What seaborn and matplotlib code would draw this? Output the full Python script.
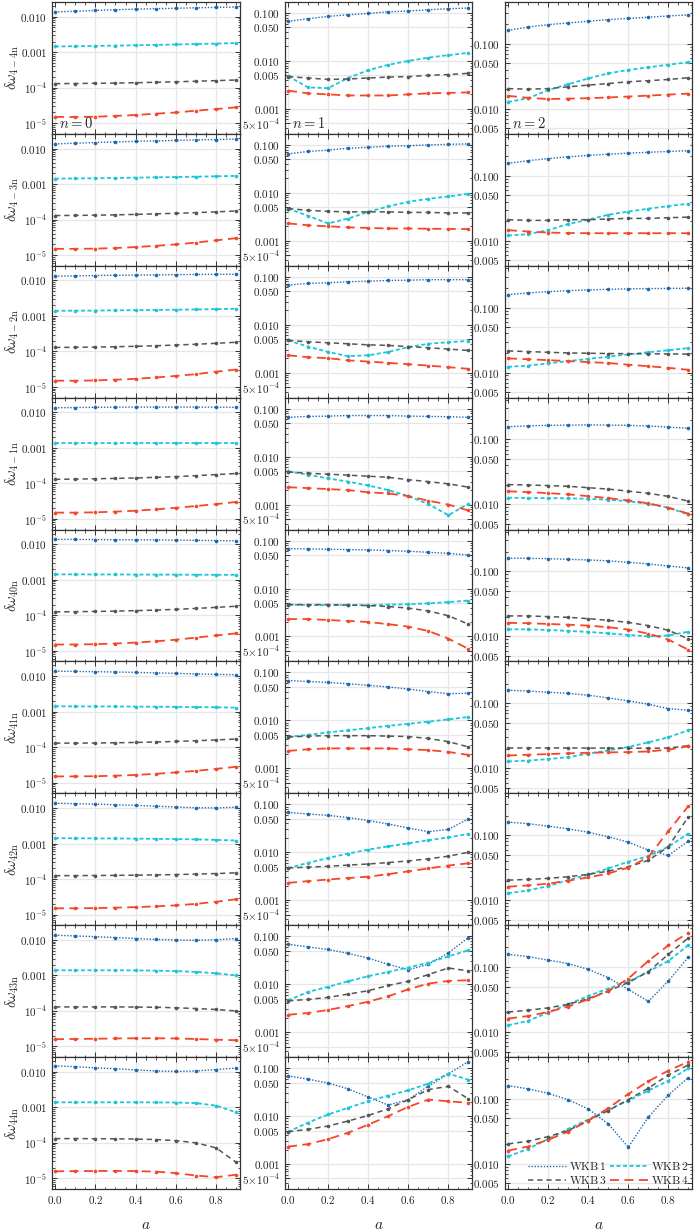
import numpy as np
import matplotlib
matplotlib.use("Agg")
import matplotlib.pyplot as plt
from matplotlib.gridspec import GridSpec
from matplotlib.lines import Line2D
from matplotlib.ticker import FixedLocator, FixedFormatter, LogLocator, MultipleLocator, NullFormatter
import seaborn as sns

# spin parameter a
a_vals = [0.0, 0.1, 0.2, 0.3, 0.4, 0.5, 0.6, 0.7, 0.8, 0.9]

row_labels = ["4-4", "4-3", "4-2", "4-1", "40", "41", "42", "43", "44"]
overtones = ["0", "1", "2"]
wkb_names = ["WKB 1", "WKB 2", "WKB 3", "WKB 4"]

# n = 0, one list per row (l=4, m=-4..4)
wkb1_n0 = [
    [0.0136, 0.0143, 0.0150, 0.0157, 0.0163, 0.0168, 0.0173, 0.0178, 0.0183, 0.0188],
    [0.0135, 0.0142, 0.0148, 0.0154, 0.0160, 0.0165, 0.0170, 0.0175, 0.0180, 0.0185],
    [0.0132, 0.0135, 0.0138, 0.0140, 0.0142, 0.0144, 0.0146, 0.0148, 0.0149, 0.0150],
    [0.0135, 0.0137, 0.0139, 0.0140, 0.0141, 0.0141, 0.0141, 0.0141, 0.0140, 0.0139],
    [0.0137, 0.0137, 0.0136, 0.0135, 0.0134, 0.0133, 0.0131, 0.0129, 0.0127, 0.0125],
    [0.0138, 0.0136, 0.0134, 0.0131, 0.0128, 0.0124, 0.0120, 0.0116, 0.0112, 0.0110],
    [0.0137, 0.0133, 0.0129, 0.0124, 0.0119, 0.0113, 0.0107, 0.0102, 0.0101, 0.0106],
    [0.0136, 0.0130, 0.0124, 0.0117, 0.0110, 0.0104, 0.0100, 0.0098, 0.0102, 0.0110],
    [0.0148, 0.0140, 0.0130, 0.0122, 0.0114, 0.0106, 0.0103, 0.0106, 0.0116, 0.0128],
]
wkb2_n0 = [
    [0.00145, 0.00147, 0.00150, 0.00153, 0.00157, 0.00160, 0.00165, 0.00170, 0.00175, 0.00180],
    [0.00142, 0.00144, 0.00146, 0.00149, 0.00152, 0.00155, 0.00158, 0.00162, 0.00166, 0.00170],
    [0.00140, 0.00141, 0.00142, 0.00144, 0.00146, 0.00148, 0.00150, 0.00153, 0.00156, 0.00160],
    [0.00140, 0.00140, 0.00140, 0.00140, 0.00140, 0.00140, 0.00140, 0.00140, 0.00140, 0.00140],
    [0.00142, 0.00142, 0.00141, 0.00141, 0.00140, 0.00140, 0.00139, 0.00139, 0.00138, 0.00138],
    [0.00142, 0.00141, 0.00140, 0.00140, 0.00139, 0.00138, 0.00137, 0.00135, 0.00133, 0.00130],
    [0.00142, 0.00141, 0.00140, 0.00139, 0.00138, 0.00136, 0.00134, 0.00131, 0.00127, 0.00122],
    [0.00140, 0.00140, 0.00140, 0.00140, 0.00139, 0.00137, 0.00133, 0.00126, 0.00115, 0.00100],
    [0.00139, 0.00139, 0.00139, 0.00139, 0.00139, 0.00138, 0.00137, 0.00132, 0.00112, 0.00072],
]
wkb3_n0 = [
    [1.30e-4, 1.31e-4, 1.33e-4, 1.35e-4, 1.38e-4, 1.42e-4, 1.47e-4, 1.52e-4, 1.58e-4, 1.65e-4],
    [1.30e-4, 1.31e-4, 1.33e-4, 1.36e-4, 1.40e-4, 1.45e-4, 1.50e-4, 1.57e-4, 1.65e-4, 1.75e-4],
    [1.30e-4, 1.31e-4, 1.33e-4, 1.36e-4, 1.40e-4, 1.45e-4, 1.52e-4, 1.60e-4, 1.70e-4, 1.82e-4],
    [1.30e-4, 1.32e-4, 1.35e-4, 1.38e-4, 1.42e-4, 1.48e-4, 1.55e-4, 1.65e-4, 1.77e-4, 1.90e-4],
    [1.25e-4, 1.26e-4, 1.28e-4, 1.31e-4, 1.35e-4, 1.40e-4, 1.47e-4, 1.56e-4, 1.67e-4, 1.80e-4],
    [1.30e-4, 1.30e-4, 1.31e-4, 1.33e-4, 1.36e-4, 1.40e-4, 1.45e-4, 1.52e-4, 1.60e-4, 1.70e-4],
    [1.25e-4, 1.25e-4, 1.26e-4, 1.27e-4, 1.29e-4, 1.31e-4, 1.34e-4, 1.38e-4, 1.43e-4, 1.50e-4],
    [1.30e-4, 1.30e-4, 1.30e-4, 1.30e-4, 1.29e-4, 1.27e-4, 1.23e-4, 1.17e-4, 1.10e-4, 1.00e-4],
    [1.32e-4, 1.32e-4, 1.31e-4, 1.30e-4, 1.28e-4, 1.24e-4, 1.16e-4, 1.00e-4, 7.2e-5, 2.8e-5],
]
wkb4_n0 = [
    [1.50e-5, 1.50e-5, 1.52e-5, 1.60e-5, 1.70e-5, 1.85e-5, 2.00e-5, 2.25e-5, 2.50e-5, 2.80e-5],
    [1.50e-5, 1.50e-5, 1.52e-5, 1.58e-5, 1.68e-5, 1.82e-5, 2.00e-5, 2.25e-5, 2.60e-5, 3.00e-5],
    [1.50e-5, 1.50e-5, 1.53e-5, 1.60e-5, 1.70e-5, 1.85e-5, 2.05e-5, 2.30e-5, 2.70e-5, 3.10e-5],
    [1.50e-5, 1.50e-5, 1.53e-5, 1.60e-5, 1.70e-5, 1.85e-5, 2.05e-5, 2.30e-5, 2.60e-5, 3.00e-5],
    [1.50e-5, 1.50e-5, 1.53e-5, 1.60e-5, 1.70e-5, 1.85e-5, 2.05e-5, 2.35e-5, 2.70e-5, 3.10e-5],
    [1.50e-5, 1.50e-5, 1.52e-5, 1.57e-5, 1.65e-5, 1.77e-5, 1.95e-5, 2.15e-5, 2.45e-5, 2.80e-5],
    [1.50e-5, 1.50e-5, 1.52e-5, 1.56e-5, 1.62e-5, 1.70e-5, 1.82e-5, 2.00e-5, 2.30e-5, 2.70e-5],
    [1.60e-5, 1.62e-5, 1.65e-5, 1.68e-5, 1.70e-5, 1.70e-5, 1.68e-5, 1.62e-5, 1.55e-5, 1.50e-5],
    [1.58e-5, 1.60e-5, 1.61e-5, 1.62e-5, 1.60e-5, 1.55e-5, 1.40e-5, 1.20e-5, 1.08e-5, 1.27e-5],
]

# n = 1
wkb1_n1 = [
    [0.067, 0.076, 0.085, 0.092, 0.098, 0.106, 0.110, 0.117, 0.123, 0.127],
    [0.065, 0.073, 0.078, 0.085, 0.089, 0.094, 0.096, 0.100, 0.103, 0.105],
    [0.067, 0.073, 0.075, 0.079, 0.081, 0.084, 0.085, 0.087, 0.087, 0.087],
    [0.066, 0.069, 0.070, 0.072, 0.072, 0.072, 0.070, 0.069, 0.068, 0.066],
    [0.068, 0.067, 0.066, 0.065, 0.064, 0.062, 0.060, 0.057, 0.054, 0.050],
    [0.068, 0.065, 0.062, 0.058, 0.054, 0.050, 0.045, 0.040, 0.036, 0.037],
    [0.068, 0.063, 0.059, 0.053, 0.046, 0.039, 0.032, 0.027, 0.030, 0.050],
    [0.068, 0.060, 0.053, 0.044, 0.035, 0.026, 0.020, 0.026, 0.045, 0.094],
    [0.069, 0.059, 0.049, 0.037, 0.025, 0.017, 0.022, 0.042, 0.076, 0.137],
]
wkb2_n1 = [
    [0.0048, 0.0028, 0.0027, 0.0044, 0.0064, 0.0083, 0.0100, 0.0117, 0.0132, 0.0147],
    [0.0047, 0.0033, 0.0023, 0.0029, 0.0040, 0.0052, 0.0065, 0.0075, 0.0084, 0.0095],
    [0.0047, 0.0035, 0.0027, 0.0022, 0.0023, 0.0027, 0.0034, 0.0040, 0.0043, 0.0046],
    [0.0049, 0.0042, 0.0035, 0.0030, 0.0025, 0.0020, 0.0015, 0.00102, 0.00060, 0.00103],
    [0.0046, 0.0045, 0.0045, 0.0045, 0.0045, 0.0046, 0.0047, 0.0049, 0.0052, 0.0056],
    [0.0045, 0.0050, 0.0056, 0.0062, 0.0069, 0.0077, 0.0085, 0.0094, 0.0105, 0.0118],
    [0.0047, 0.0060, 0.0076, 0.0094, 0.0114, 0.0133, 0.0154, 0.0178, 0.0205, 0.0242],
    [0.0046, 0.0069, 0.0088, 0.0115, 0.0147, 0.0180, 0.0223, 0.0280, 0.0380, 0.0510],
    [0.0047, 0.0073, 0.0108, 0.0149, 0.0204, 0.0268, 0.0345, 0.0476, 0.0766, 0.0575],
]
wkb3_n1 = [
    [0.0047, 0.0044, 0.0041, 0.0042, 0.0044, 0.0046, 0.0047, 0.0050, 0.0052, 0.0055],
    [0.0047, 0.0043, 0.0041, 0.0040, 0.0040, 0.0040, 0.0039, 0.0039, 0.0038, 0.0038],
    [0.0047, 0.0044, 0.0042, 0.0040, 0.0038, 0.0037, 0.0035, 0.0033, 0.0031, 0.0029],
    [0.0048, 0.0045, 0.0043, 0.0041, 0.0039, 0.0037, 0.0033, 0.0030, 0.0027, 0.0023],
    [0.0046, 0.0046, 0.0046, 0.0045, 0.0044, 0.0042, 0.0039, 0.0034, 0.0027, 0.0018],
    [0.0045, 0.0047, 0.0048, 0.0048, 0.0048, 0.0047, 0.0046, 0.0042, 0.0036, 0.0028],
    [0.0047, 0.0049, 0.0051, 0.0054, 0.0057, 0.0061, 0.0066, 0.0073, 0.0083, 0.0100],
    [0.0045, 0.0048, 0.0053, 0.0062, 0.0073, 0.0094, 0.0115, 0.0159, 0.0218, 0.0189],
    [0.0047, 0.0053, 0.0062, 0.0079, 0.0103, 0.0142, 0.0221, 0.0357, 0.0418, 0.0229],
]
wkb4_n1 = [
    [0.0024, 0.0021, 0.0020, 0.0019, 0.0019, 0.0019, 0.0020, 0.0021, 0.00215, 0.0022],
    [0.0023, 0.0021, 0.0020, 0.0019, 0.00185, 0.0018, 0.0018, 0.00178, 0.00176, 0.00175],
    [0.0023, 0.0021, 0.0020, 0.0018, 0.0017, 0.0016, 0.0015, 0.0014, 0.0013, 0.0012],
    [0.0023, 0.0022, 0.0021, 0.0020, 0.0018, 0.0017, 0.0015, 0.0012, 0.0010, 0.00075],
    [0.0023, 0.0023, 0.0022, 0.0021, 0.0020, 0.0018, 0.0016, 0.0013, 0.0009, 0.00055],
    [0.0023, 0.0025, 0.0026, 0.0026, 0.0026, 0.0026, 0.0025, 0.0024, 0.0022, 0.0019],
    [0.0023, 0.0025, 0.0027, 0.0029, 0.0031, 0.0035, 0.0040, 0.0046, 0.0053, 0.0059],
    [0.0023, 0.0025, 0.0029, 0.0035, 0.0043, 0.0056, 0.0078, 0.0103, 0.0117, 0.0121],
    [0.0023, 0.0026, 0.0033, 0.0045, 0.0066, 0.0100, 0.0156, 0.0221, 0.0204, 0.0189],
]

# n = 2
wkb1_n2 = [
    [0.161, 0.181, 0.197, 0.209, 0.222, 0.236, 0.245, 0.256, 0.268, 0.278],
    [0.155, 0.170, 0.183, 0.195, 0.205, 0.214, 0.222, 0.229, 0.236, 0.242],
    [0.158, 0.168, 0.176, 0.182, 0.187, 0.191, 0.194, 0.196, 0.197, 0.198],
    [0.157, 0.162, 0.165, 0.166, 0.168, 0.166, 0.165, 0.161, 0.155, 0.149],
    [0.159, 0.159, 0.157, 0.153, 0.150, 0.145, 0.138, 0.130, 0.121, 0.113],
    [0.159, 0.154, 0.148, 0.142, 0.133, 0.121, 0.109, 0.0965, 0.0827, 0.0778],
    [0.159, 0.150, 0.138, 0.125, 0.111, 0.0945, 0.078, 0.0588, 0.0487, 0.0808],
    [0.157, 0.145, 0.128, 0.113, 0.0922, 0.0687, 0.0454, 0.0296, 0.0609, 0.142],
    [0.160, 0.143, 0.122, 0.0975, 0.0702, 0.0413, 0.0181, 0.0523, 0.115, 0.213],
]
wkb2_n2 = [
    [0.0127, 0.0145, 0.0193, 0.0239, 0.0292, 0.0350, 0.0395, 0.0433, 0.0477, 0.0518],
    [0.0120, 0.0125, 0.0145, 0.0180, 0.0210, 0.0250, 0.0280, 0.0310, 0.0340, 0.0370],
    [0.0122, 0.0128, 0.0138, 0.0150, 0.0162, 0.0175, 0.0190, 0.0205, 0.0220, 0.0238],
    [0.0127, 0.0125, 0.0125, 0.0124, 0.0122, 0.0118, 0.0112, 0.0102, 0.0089, 0.0070],
    [0.0128, 0.0128, 0.0125, 0.0121, 0.0117, 0.0111, 0.0105, 0.0100, 0.0103, 0.0118],
    [0.0127, 0.0131, 0.0138, 0.0148, 0.0167, 0.0188, 0.0212, 0.0250, 0.0299, 0.0384],
    [0.0127, 0.0141, 0.0164, 0.0203, 0.0246, 0.0307, 0.0390, 0.0475, 0.0663, 0.106],
    [0.0127, 0.0148, 0.0199, 0.0267, 0.0358, 0.0466, 0.0596, 0.0849, 0.124, 0.218],
    [0.0130, 0.0170, 0.0242, 0.0345, 0.0480, 0.0684, 0.0942, 0.134, 0.191, 0.296],
]
wkb3_n2 = [
    [0.0204, 0.0200, 0.0204, 0.0217, 0.0231, 0.0244, 0.0260, 0.0270, 0.0282, 0.0300],
    [0.0210, 0.0205, 0.0205, 0.0210, 0.0210, 0.0215, 0.0220, 0.0220, 0.0225, 0.0230],
    [0.0215, 0.0210, 0.0205, 0.0200, 0.0198, 0.0196, 0.0195, 0.0194, 0.0193, 0.0192],
    [0.0202, 0.0199, 0.0195, 0.0190, 0.0181, 0.0172, 0.0160, 0.0148, 0.0133, 0.0112],
    [0.0206, 0.0206, 0.0201, 0.0196, 0.0187, 0.0176, 0.0164, 0.0146, 0.0124, 0.0091],
    [0.0205, 0.0205, 0.0205, 0.0205, 0.0204, 0.0204, 0.0203, 0.0203, 0.0204, 0.0222],
    [0.0203, 0.0208, 0.0216, 0.0229, 0.0249, 0.0279, 0.0326, 0.0408, 0.0663, 0.192],
    [0.0203, 0.0216, 0.0235, 0.0267, 0.0326, 0.0428, 0.0575, 0.0849, 0.157, 0.282],
    [0.0203, 0.0223, 0.0263, 0.0326, 0.0464, 0.0660, 0.0976, 0.146, 0.234, 0.334],
]
wkb4_n2 = [
    [0.0158, 0.0147, 0.0141, 0.0143, 0.0145, 0.0149, 0.0154, 0.0159, 0.0165, 0.0171],
    [0.0145, 0.0138, 0.0133, 0.0131, 0.0130, 0.0130, 0.0130, 0.0130, 0.0130, 0.0130],
    [0.0165, 0.0160, 0.0155, 0.0150, 0.0145, 0.0140, 0.0132, 0.0125, 0.0118, 0.0110],
    [0.0159, 0.0155, 0.0149, 0.0143, 0.0134, 0.0125, 0.0115, 0.0104, 0.0089, 0.0072],
    [0.0161, 0.0159, 0.0155, 0.0151, 0.0146, 0.0138, 0.0127, 0.0110, 0.0089, 0.0062],
    [0.0157, 0.0161, 0.0165, 0.0169, 0.0173, 0.0175, 0.0177, 0.0181, 0.0193, 0.0217],
    [0.0161, 0.0168, 0.0179, 0.0199, 0.0223, 0.0257, 0.0315, 0.0458, 0.115, 0.280],
    [0.0161, 0.0176, 0.0203, 0.0246, 0.0318, 0.0428, 0.0663, 0.124, 0.216, 0.337],
    [0.0160, 0.0185, 0.0234, 0.0314, 0.0464, 0.0720, 0.119, 0.187, 0.273, 0.374],
]

columns = [
    [wkb1_n0, wkb2_n0, wkb3_n0, wkb4_n0],
    [wkb1_n1, wkb2_n1, wkb3_n1, wkb4_n1],
    [wkb1_n2, wkb2_n2, wkb3_n2, wkb4_n2],
]

# y axis setup per column
ylims = [(5.0e-6, 0.026), (3.0e-4, 0.17), (0.0041, 0.44)]
yticks = [
    [1e-5, 1e-4, 1e-3, 1e-2],
    [5e-4, 1e-3, 5e-3, 1e-2, 5e-2, 1e-1],
    [5e-3, 1e-2, 5e-2, 1e-1],
]
yticklabels = [
    [r"$10^{-5}$", r"$10^{-4}$", r"$0.001$", r"$0.010$"],
    [r"$5\!\times\!10^{-4}$", r"$0.001$", r"$0.005$", r"$0.010$", r"$0.050$", r"$0.100$"],
    [r"$0.005$", r"$0.010$", r"$0.050$", r"$0.100$"],
]

line_styles = [
    dict(color="#1f68ad", linestyle=(0, (1, 1.2)), lw=1.0),
    dict(color="#1cc6d6", linestyle=(0, (2.2, 1.4)), lw=1.3),
    dict(color="#555555", linestyle=(0, (3.5, 2.5)), lw=1.1),
    dict(color="#f4472a", linestyle=(0, (5, 3)), lw=1.3),
]

sns.set_theme(style="ticks")
plt.rcParams.update({
    "font.family": "serif",
    "font.serif": ["cmr10"],
    "mathtext.fontset": "cm",
    "axes.formatter.use_mathtext": True,
    "axes.unicode_minus": False,
    "axes.edgecolor": "#333333",
    "axes.linewidth": 0.9,
    "xtick.direction": "in",
    "ytick.direction": "in",
    "xtick.top": True,
    "ytick.right": True,
    "xtick.color": "#333333",
    "ytick.color": "#333333",
    "xtick.major.size": 3.5,
    "ytick.major.size": 3.5,
    "xtick.minor.size": 1.8,
    "ytick.minor.size": 1.8,
    "xtick.major.width": 0.7,
    "ytick.major.width": 0.7,
    "xtick.minor.width": 0.6,
    "ytick.minor.width": 0.6,
    "xtick.labelsize": 8.0,
    "ytick.labelsize": 8.0,
    "xtick.labelcolor": "#222222",
    "ytick.labelcolor": "#222222",
})

fig = plt.figure(figsize=(6.98, 12.30), dpi=100)
gs = GridSpec(9, 5, figure=fig, width_ratios=[188, 45, 187, 33, 187],
              left=0.0745, right=0.9914, top=0.9984, bottom=0.0333,
              wspace=0, hspace=0)

xticks = [0.0, 0.2, 0.4, 0.6, 0.8]

for col in range(3):
    for row in range(9):
        ax = fig.add_subplot(gs[row, 2 * col])
        for k in range(4):
            st = line_styles[k]
            sns.lineplot(x=a_vals, y=columns[col][k][row], ax=ax,
                         color=st["color"], linestyle=st["linestyle"], lw=st["lw"],
                         marker="o", markersize=2.6, markeredgewidth=0,
                         legend=False)
        ax.set_yscale("log")
        ax.set_ylim(*ylims[col])
        ax.set_xlim(-0.015, 0.918)

        ax.yaxis.set_major_locator(FixedLocator(yticks[col]))
        ax.yaxis.set_major_formatter(FixedFormatter(yticklabels[col]))
        ax.yaxis.set_minor_locator(LogLocator(base=10, subs=np.arange(2, 10), numticks=20))
        ax.yaxis.set_minor_formatter(NullFormatter())

        ax.xaxis.set_major_locator(FixedLocator(xticks))
        ax.xaxis.set_minor_locator(MultipleLocator(0.05))
        if row == 8:
            ax.set_xticklabels([rf"${t:.1f}$" for t in xticks])
            ax.set_xlabel(r"$a$", fontsize=11, labelpad=9)
        else:
            ax.set_xticklabels([])
            ax.set_xlabel("")

        ax.grid(True, which="major", color="#e6e6e6", lw=0.9)
        ax.set_axisbelow(True)

        if col == 0:
            ax.set_ylabel(rf"$\delta\omega_{{{row_labels[row]}\mathrm{{n}}}}$", fontsize=10.5)
            ax.yaxis.set_label_coords(-0.165, 0.5)
        else:
            ax.set_ylabel("")

        if row == 0:
            ax.text(0.035, 0.02, rf"$n = {overtones[col]}$", transform=ax.transAxes,
                    fontsize=10.5, ha="left", va="bottom")

        if row == 8 and col == 2:
            handles = [Line2D([], [], color=s["color"], linestyle=s["linestyle"], lw=s["lw"])
                       for s in line_styles]
            labels = [rf"$\mathrm{{WKB}}\,{nm[-1]}$" for nm in wkb_names]
            order = [0, 2, 1, 3]
            ax.legend([handles[i] for i in order], [labels[i] for i in order],
                      ncol=2, loc="lower right", frameon=False, fontsize=8.3,
                      handlelength=3.3, handletextpad=0.3, columnspacing=0.2,
                      labelspacing=0.15, borderaxespad=0.15, borderpad=0.1)

fig.savefig("out.png", dpi=100)
